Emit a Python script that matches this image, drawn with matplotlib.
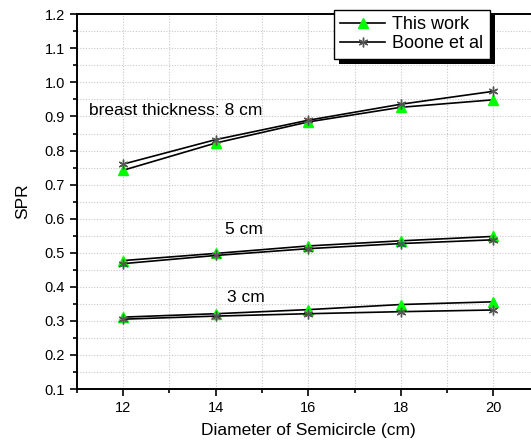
import matplotlib
matplotlib.use('Agg')
import matplotlib.pyplot as plt
from matplotlib.patches import Rectangle
from matplotlib.transforms import IdentityTransform
from matplotlib.ticker import MultipleLocator, FormatStrFormatter

plt.rcParams['font.family'] = ['Liberation Sans', 'DejaVu Sans']

# diameter of semicircle (cm)
diameters = [12, 14, 16, 18, 20]

# SPR for breast thickness 8, 5, 3 cm
this_work_8cm = [0.742, 0.822, 0.884, 0.927, 0.949]
boone_8cm = [0.760, 0.832, 0.889, 0.936, 0.974]
this_work_5cm = [0.477, 0.498, 0.520, 0.535, 0.548]
boone_5cm = [0.468, 0.492, 0.512, 0.527, 0.538]
this_work_3cm = [0.311, 0.321, 0.333, 0.348, 0.356]
boone_3cm = [0.305, 0.314, 0.321, 0.327, 0.332]

labels = ['This work', 'Boone et al']
notes = ['breast thickness: 8 cm', '5 cm', '3 cm']


def plot_spr():
    fig = plt.figure(figsize=(5.31, 4.4), dpi=100)
    ax = fig.add_axes([0.1444, 0.1159, 0.8721, 0.8516])

    tri = dict(color='black', lw=1.2, marker='^', markersize=7.5,
               markerfacecolor='#00ff00', markeredgecolor='#00ff00', zorder=3)
    ast = dict(color='black', lw=1.2, marker=(6, 2, 0), markersize=7,
               markeredgecolor='#555555', markeredgewidth=1.0, zorder=3)

    ax.plot(diameters, this_work_8cm, label=labels[0], **tri)
    ax.plot(diameters, boone_8cm, label=labels[1], **ast)
    ax.plot(diameters, this_work_5cm, **tri)
    ax.plot(diameters, boone_5cm, **ast)
    ax.plot(diameters, this_work_3cm, **tri)
    ax.plot(diameters, boone_3cm, **ast)

    ax.text(11.27, 0.918, notes[0], fontsize=12.5, va='center')
    ax.text(14.21, 0.569, notes[1], fontsize=12.5, va='center')
    ax.text(14.24, 0.368, notes[2], fontsize=12.5, va='center')

    ax.set_xlim(11, 21)
    ax.set_ylim(0.1, 1.2)
    ax.xaxis.set_major_locator(MultipleLocator(2))
    ax.xaxis.set_minor_locator(MultipleLocator(1))
    ax.yaxis.set_major_locator(MultipleLocator(0.1))
    ax.yaxis.set_minor_locator(MultipleLocator(0.05))
    ax.yaxis.set_major_formatter(FormatStrFormatter('%.1f'))
    ax.set_xticks([12, 14, 16, 18, 20])

    ax.grid(True, which='both', color='#c8c8c8', linestyle=(0, (1, 1.5)), lw=0.8)
    ax.set_axisbelow(True)
    ax.tick_params(which='major', length=5, width=1.2, labelsize=10.5, direction='out')
    ax.tick_params(which='minor', length=3, width=1.2, direction='out')
    for s in ['left', 'bottom', 'top']:
        ax.spines[s].set_linewidth(1.4)
    ax.spines['right'].set_visible(False)

    ax.set_xlabel('Diameter of Semicircle (cm)', fontsize=12.5, labelpad=6)
    ax.set_ylabel('SPR', fontsize=12.5, labelpad=10)

    leg = ax.legend(loc='upper right', bbox_to_anchor=(0.892, 1.0115), borderaxespad=0,
                    fancybox=False, framealpha=1, edgecolor='black', fontsize=13,
                    handlelength=2.5, handletextpad=0.4, borderpad=0.35, labelspacing=0.12)
    leg.get_frame().set_linewidth(1.0)
    leg.set_zorder(5)

    fig.canvas.draw()
    bb = leg.get_window_extent()
    shadow = Rectangle((bb.x0 + 5, bb.y0 - 5), bb.width, bb.height, transform=IdentityTransform(),
                       facecolor='black', edgecolor='none', zorder=4.9, clip_on=False)
    ax.add_artist(shadow)

    fig.savefig('out.png', dpi=100)


if __name__ == '__main__':
    plot_spr()
